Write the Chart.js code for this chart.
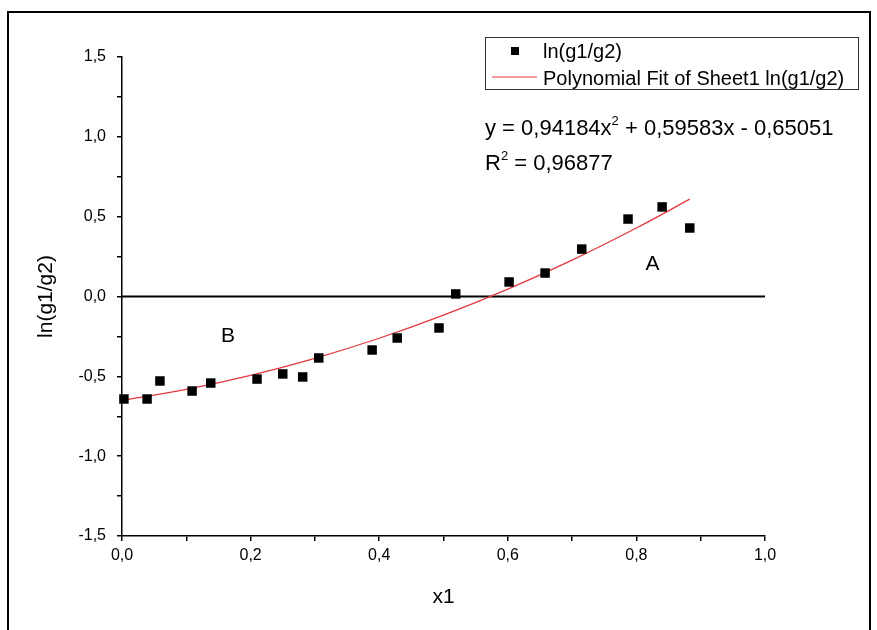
<!DOCTYPE html>
<html><head><meta charset="utf-8">
<script src="https://cdn.jsdelivr.net/npm/chart.js@4/dist/chart.umd.min.js"></script>
<style>html,body{margin:0;padding:0;background:#fff}#wrap{width:877px;height:630px;position:relative}</style>
</head><body><div id="wrap"><canvas id="c" width="877" height="630"></canvas></div>
<script>
// ---- data ----
const x1Values = [0.003, 0.039, 0.059, 0.109, 0.138, 0.210, 0.250, 0.281, 0.306, 0.389, 0.428, 0.493, 0.519, 0.602, 0.658, 0.715, 0.787, 0.840, 0.883];
const lnRatioValues = [-0.642, -0.642, -0.529, -0.592, -0.542, -0.517, -0.485, -0.504, -0.385, -0.335, -0.260, -0.197, 0.016, 0.091, 0.147, 0.297, 0.485, 0.561, 0.429];
// polynomial fit curve (red line) read along its length
const fitX = [0, 0.1, 0.2, 0.3, 0.4, 0.5, 0.6, 0.7, 0.8, 0.883];
const fitY = [-0.6505, -0.5815, -0.4937, -0.3870, -0.2615, -0.1171, 0.0460, 0.2281, 0.4289, 0.6100];
const zeroLineX = [0, 1];
const zeroLineY = [0, 0];
const xTickValues = [0, 0.1, 0.2, 0.3, 0.4, 0.5, 0.6, 0.7, 0.8, 0.9, 1.0];
const yTickValues = [-1.5, -1.25, -1.0, -0.75, -0.5, -0.25, 0, 0.25, 0.5, 0.75, 1.0, 1.25, 1.5];
const fitCoefTexts = ['0,94184', '0,59583', '0,65051'];
const r2Text = '0,96877';
const seriesLabel = 'ln(g1/g2)';
const fitLabel = 'Polynomial Fit of Sheet1 ln(g1/g2)';
const regionLabels = [{t:'A', x:0.825, y:0.2}, {t:'B', x:0.165, y:-0.25}];

const FONT = '"Liberation Sans", Arial, sans-serif';
const RED = '#e5383f';
const fmt = v => v.toFixed(1).replace('.', ',');

const overlay = {
  id: 'overlay',
  afterDraw(chart) {
    const c = chart.ctx;
    c.save();
    // outer frame
    c.strokeStyle = '#000'; c.lineWidth = 2;
    c.beginPath(); c.moveTo(8, 640); c.lineTo(8, 12); c.lineTo(870, 12); c.lineTo(870, 640); c.stroke();
    // legend
    c.lineWidth = 1; c.strokeStyle = '#333';
    c.strokeRect(485.5, 37.5, 373, 52);
    c.fillStyle = '#000';
    c.fillRect(511, 47, 8, 8);
    c.font = '20px ' + FONT; c.textBaseline = 'alphabetic'; c.textAlign = 'left';
    c.fillText(seriesLabel, 543, 58);
    c.strokeStyle = RED; c.lineWidth = 1.2;
    c.beginPath(); c.moveTo(492, 77); c.lineTo(537, 77); c.stroke();
    c.fillStyle = '#000';
    c.fillText(fitLabel, 543, 85);
    // equation
    let x = 485;
    const big = '22px ' + FONT, small = '13px ' + FONT;
    const piece = (t, f, dy) => { c.font = f; c.fillText(t, x, 135 + (dy||0)); x += c.measureText(t).width; };
    piece('y = ' + fitCoefTexts[0] + 'x', big);
    piece('2', small, -10);
    piece(' + ' + fitCoefTexts[1] + 'x - ' + fitCoefTexts[2], big);
    x = 485;
    const piece2 = (t, f, dy) => { c.font = f; c.fillText(t, x, 170 + (dy||0)); x += c.measureText(t).width; };
    piece2('R', big);
    piece2('2', small, -10);
    piece2(' = ' + r2Text, big);
    // region labels
    const xs = chart.scales.x, ys = chart.scales.y;
    c.font = '21px ' + FONT; c.textAlign = 'center'; c.textBaseline = 'middle';
    regionLabels.forEach(l => c.fillText(l.t, xs.getPixelForValue(l.x), ys.getPixelForValue(l.y)));
    c.restore();
  }
};

new Chart(document.getElementById('c'), {
  type: 'scatter',
  data: {
    datasets: [
      { label: 'zero', type: 'line', data: zeroLineX.map((v, i) => ({x: v, y: zeroLineY[i]})),
        borderColor: '#000', borderWidth: 2, pointRadius: 0, fill: false, order: 3 },
      { label: fitLabel, type: 'line', data: fitX.map((v, i) => ({x: v, y: fitY[i]})),
        borderColor: RED, borderWidth: 1.3, pointRadius: 0, fill: false,
        cubicInterpolationMode: 'monotone', order: 2 },
      { label: seriesLabel, data: x1Values.map((v, i) => ({x: v, y: lnRatioValues[i]})),
        pointStyle: 'rect', pointRadius: 6.7, backgroundColor: '#000', borderWidth: 0, clip: false, order: 1 }
    ]
  },
  options: {
    responsive: false, animation: false, devicePixelRatio: 1,
    layout: { padding: { left: 0, right: 112, top: 57, bottom: 0 } },
    plugins: { legend: { display: false }, tooltip: { enabled: false } },
    scales: {
      x: {
        type: 'linear', min: 0, max: 1,
        afterBuildTicks: s => { s.ticks = xTickValues.map(v => ({ value: v })); },
        afterFit: s => { s.height = 94; },
        ticks: { autoSkip: false, maxRotation: 0, color: '#000', padding: 5,
          font: { family: FONT, size: 16 },
          callback: v => (Math.round(v * 10) % 2 === 0 ? fmt(v) : '') },
        grid: { drawOnChartArea: false, drawTicks: true, tickLength: 5, color: '#000', lineWidth: 1.5 },
        border: { display: true, color: '#000', width: 1.5 },
        title: { display: true, text: 'x1', color: '#000', font: { family: FONT, size: 21 }, padding: { top: 0, bottom: 20 } }
      },
      y: {
        type: 'linear', min: -1.5, max: 1.5,
        afterBuildTicks: s => { s.ticks = yTickValues.map(v => ({ value: v })); },
        afterFit: s => { s.width = 122; },
        ticks: { autoSkip: false, color: '#000', padding: 11,
          font: { family: FONT, size: 16 },
          callback: v => (Math.abs(Math.round(v * 2) - v * 2) < 1e-6 ? fmt(v) : '') },
        grid: { drawOnChartArea: false, drawTicks: true, tickLength: 5, color: '#000', lineWidth: 1.5 },
        border: { display: true, color: '#000', width: 1.5 },
        title: { display: true, text: 'ln(g1/g2)', color: '#000', font: { family: FONT, size: 21 }, padding: { top: 34, bottom: 0 } }
      }
    }
  },
  plugins: [overlay]
});
</script>
</body></html>
